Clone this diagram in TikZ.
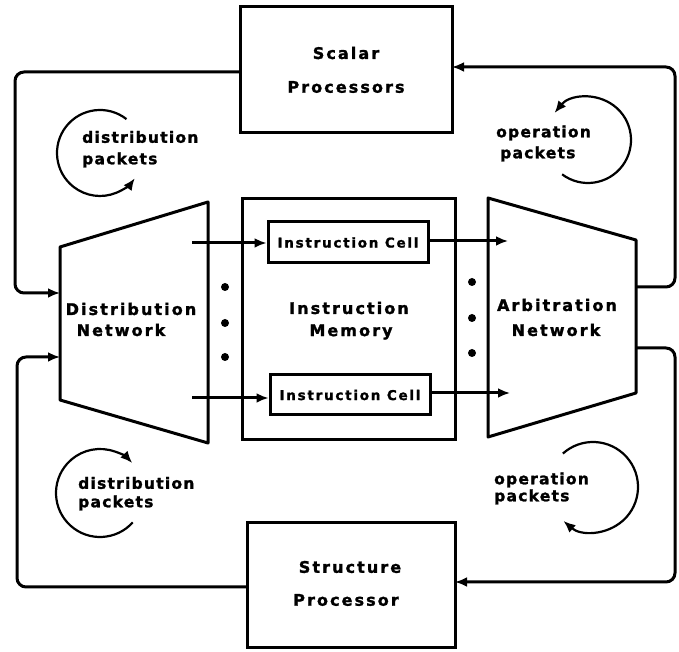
\documentclass[tikz,border=0pt]{standalone}
\usepackage{fontspec}
\newfontfamily\labfont[LetterSpace=13, BoldFeatures={FakeBold=1.5}]{DejaVu Sans}
\newfontfamily\pktfont[LetterSpace=8, BoldFeatures={FakeBold=1.5}]{DejaVu Sans}
\usetikzlibrary{arrows.meta}
\begin{document}
\begin{tikzpicture}[x=1pt,y=1pt,
  line/.style={line width=3pt, line join=round},
  box/.style={draw, line width=3pt, inner sep=0pt},
  loop/.style={line width=3pt, rounded corners=9pt, -{Latex[length=12pt,width=10pt]}},
  flow/.style={line width=3pt, -{Latex[length=12pt,width=10pt]}},
  circarrow/.style={line width=2.2pt, -{Latex[length=12pt,width=10pt]}},
  lab/.style={font=\labfont\bfseries\fontsize{16}{18}\selectfont, inner sep=0pt},
  cell/.style={font=\labfont\bfseries\fontsize{13.5}{15}\selectfont, inner sep=0pt},
  pkt/.style={font=\pktfont\bfseries\fontsize{15.5}{17}\selectfont, inner sep=0pt, anchor=west},
  dot/.style={circle, fill, inner sep=0pt, minimum size=8pt}]
\useasboundingbox (0,0) rectangle (679,652);
% boxes
\node[box, minimum width=212pt, minimum height=126pt] (scalar) at (346,582) {};
\node[box, minimum width=213pt, minimum height=241pt] (mem) at (348.5,332.5) {};
\node[box, minimum width=160pt, minimum height=41pt] (cell1) at (348,409.5) {};
\node[box, minimum width=160pt, minimum height=40pt] (cell2) at (350,257) {};
\node[box, minimum width=208pt, minimum height=125pt] (struct) at (351,66.5) {};
% trapezoids
\coordinate (d1) at (60,405); \coordinate (d2) at (208,450);
\coordinate (d3) at (208,209); \coordinate (d4) at (60,252);
\draw[line] (d1) -- (d2) -- (d3) -- (d4) -- cycle;
\coordinate (a1) at (488,454); \coordinate (a2) at (636,412);
\coordinate (a3) at (636,259); \coordinate (a4) at (488,215);
\draw[line] (a1) -- (a2) -- (a3) -- (a4) -- cycle;
% labels
\node[lab] (t1) at (346,599) {Scalar};
\node[lab] (t2) at (346,565) {Processors};
\node[lab] (t3) at (131,343) {Distribution};
\node[lab] (t4) at (121,322) {Network};
\node[lab] (t5) at (349,344) {Instruction};
\node[lab] (t6) at (351,320) {Memory};
\node[lab] (t7) at (557,347) {Arbitration};
\node[lab] (t8) at (556,322) {Network};
\node[lab] (t9) at (350,85) {Structure};
\node[lab] (t10) at (346,52) {Processor};
\node[cell] (c1) at (cell1) {Instruction Cell};
\node[cell] (c2) at (cell2) {Instruction Cell};
% dots
\node[dot] (l1) at (225,365) {}; \node[dot] (l2) at (225,329) {}; \node[dot] (l3) at (225,295) {};
\node[dot] (r1) at (472,370) {}; \node[dot] (r2) at (472,334) {}; \node[dot] (r3) at (472,299) {};
% loops
\coordinate (sl) at (240,580); \coordinate (dl1) at (60,359);
\draw[loop] (sl) -- (15,580) -- (15,359) -- (dl1);
\coordinate (stl) at (247,65); \coordinate (dl2) at (60,295);
\draw[loop] (stl) -- (17,65) -- (17,295) -- (dl2);
\coordinate (ar1) at (636,365); \coordinate (sr) at (452,585);
\draw[loop] (ar1) -- (675,365) -- (675,585) -- (sr);
\coordinate (ar2) at (636,304); \coordinate (str) at (455,70);
\draw[loop] (ar2) -- (675,304) -- (675,70) -- (str);
% cell arrows
\coordinate (in1) at (192,409); \coordinate (in2) at (192,254);
\coordinate (out1) at (508,411); \coordinate (out2) at (510,259);
\draw[flow] (in1) -- (in1 -| cell1.west);
\draw[flow] (in2) -- (in2 -| cell2.west);
\draw[flow] (cell1.east |- out1) -- (out1);
\draw[flow] (cell2.east |- out2) -- (out2);
% circular arrows
\coordinate (k1) at (100,499);
\draw[circarrow] ([shift={(52:43)}]k1) arc[start angle=52, end angle=324, radius=43];
\coordinate (k2) at (588,512);
\draw[circarrow] ([shift={(-127:43)}]k2) arc[start angle=-127, end angle=141, radius=43];
\coordinate (k3) at (100,159);
\draw[circarrow] ([shift={(-42:44)}]k3) arc[start angle=-42, end angle=-317, radius=44];
\coordinate (k4) at (593,165);
\draw[circarrow] ([shift={(132:45)}]k4) arc[start angle=132, end angle=-131, radius=45];
% packet labels
\node[pkt] (p1) at (82,515) {distribution};
\node[pkt] (p2) at (82,492) {packets};
\node[pkt] (p3) at (496,519) {operation};
\node[pkt] (p4) at (500,498) {packets};
\node[pkt] (p5) at (78,169) {distribution};
\node[pkt] (p6) at (78,149) {packets};
\node[pkt] (p7) at (494,172) {operation};
\node[pkt] (p8) at (494,155) {packets};
\end{tikzpicture}
\end{document}
